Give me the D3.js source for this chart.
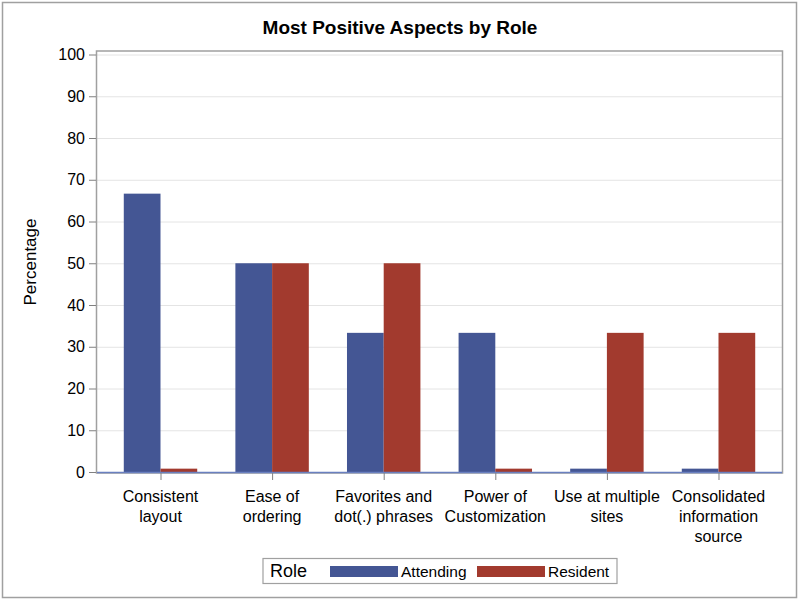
<!DOCTYPE html>
<html>
<head>
<meta charset="utf-8">
<script src="https://cdn.jsdelivr.net/npm/d3@7"></script>
<style>
  html, body { margin: 0; padding: 0; background: #fff; }
  svg { display: block; font-family: "Liberation Sans", Arial, sans-serif; }
</style>
</head>
<body>
<svg id="chart" width="800" height="600"></svg>
<script>
const title = "Most Positive Aspects by Role";
const categories = [
  ["Consistent", "layout"],
  ["Ease of", "ordering"],
  ["Favorites and", "dot(.) phrases"],
  ["Power of", "Customization"],
  ["Use at multiple", "sites"],
  ["Consolidated", "information", "source"]
];
const seriesNames = ["Attending", "Resident"];
const attending = [66.67, 50, 33.33, 33.33, 0.8, 0.8];
const resident = [0.8, 50, 50, 0.8, 33.33, 33.33];
const yTicks = [0, 10, 20, 30, 40, 50, 60, 70, 80, 90, 100];
const colors = ["#445694", "#A23A2E"];
const yLabel = "Percentage";
const legendTitle = "Role";

const svg = d3.select("#chart");
const plot = { left: 97, right: 782, top: 51, bottom: 472 };

// outer border
svg.append("rect").attr("x", 2.5).attr("y", 2.5).attr("width", 794).attr("height", 595)
  .attr("fill", "none").attr("stroke", "#a0a0a0").attr("stroke-width", 1.5);

// title
svg.append("text").attr("x", 400).attr("y", 34).attr("text-anchor", "middle")
  .attr("font-size", 19).attr("font-weight", "bold").attr("fill", "#000").text(title);

const y = d3.scaleLinear().domain([0, 100]).range([472, 54.5]);
const idx = categories.map((d, i) => i);
const x0 = d3.scaleBand().domain(idx).range([plot.left, plot.right])
  .paddingInner(0.342).paddingOuter(0.24);
const x1 = d3.scaleBand().domain([0, 1]).range([0, x0.bandwidth()]);

// gridlines
svg.append("g").selectAll("line").data(yTicks).join("line")
  .attr("x1", plot.left).attr("x2", plot.right)
  .attr("y1", d => y(d) + 0.5).attr("y2", d => y(d) + 0.5)
  .attr("stroke", "#e4e4e4").attr("stroke-width", 1);

// frame
svg.append("rect").attr("x", plot.left - 0.5).attr("y", plot.top)
  .attr("width", plot.right - plot.left + 1).attr("height", plot.bottom - plot.top + 1)
  .attr("fill", "none").attr("stroke", "#a0a0a0").attr("stroke-width", 1.5);

// bars
const data = idx.map(i => [attending[i], resident[i]]);
const groups = svg.append("g").selectAll("g").data(data).join("g")
  .attr("transform", (d, i) => `translate(${x0(i)},0)`);
groups.selectAll("rect").data(d => d.map((v, s) => ({ v, s }))).join("rect")
  .attr("x", d => x1(d.s)).attr("width", x1.bandwidth())
  .attr("y", d => y(d.v)).attr("height", d => y(0) - y(d.v))
  .attr("fill", d => colors[d.s]);

// baseline
svg.append("line").attr("x1", plot.left).attr("x2", plot.right)
  .attr("y1", y(0) + 0.5).attr("y2", y(0) + 0.5)
  .attr("stroke", "#6a80c0").attr("stroke-width", 1.5);

// y axis
const yAxis = d3.axisLeft(y).tickValues(yTicks).tickSize(7).tickPadding(4);
const gy = svg.append("g").attr("transform", `translate(${plot.left - 1},0)`).call(yAxis);
gy.select(".domain").remove();
gy.selectAll(".tick line").attr("stroke", "#808080");
gy.selectAll(".tick text").attr("font-size", 16).attr("fill", "#000")
  .attr("font-family", "Liberation Sans, Arial, sans-serif");

// x axis
const xAxis = d3.axisBottom(d3.scalePoint().domain(idx)
  .range([x0(0) + x0.bandwidth() / 2, x0(5) + x0.bandwidth() / 2])).tickSize(7).tickFormat("");
const gx = svg.append("g").attr("transform", `translate(0,${plot.bottom + 1})`).call(xAxis);
gx.select(".domain").remove();
gx.selectAll(".tick line").attr("stroke", "#808080");

// category labels
svg.append("g").selectAll("text").data(categories).join("text")
  .attr("x", (d, i) => x0(i) + x0.bandwidth() / 2)
  .attr("y", 502).attr("text-anchor", "middle").attr("font-size", 16).attr("fill", "#000")
  .each(function (d) {
    const t = d3.select(this);
    d.forEach((line, k) => {
      t.append("tspan").attr("x", t.attr("x")).attr("dy", k === 0 ? 0 : 20).text(line);
    });
  });

// y label
svg.append("text").attr("transform", "translate(36,262) rotate(-90)")
  .attr("text-anchor", "middle").attr("font-size", 17).attr("fill", "#000").text(yLabel);

// legend
const lg = svg.append("g");
lg.append("rect").attr("x", 263).attr("y", 558.5).attr("width", 354).attr("height", 25)
  .attr("fill", "#fff").attr("stroke", "#a0a0a0").attr("stroke-width", 1.2);
lg.append("text").attr("x", 270).attr("y", 577).attr("font-size", 18).attr("fill", "#000").text(legendTitle);
const swX = [330, 477];
seriesNames.forEach((n, s) => {
  lg.append("rect").attr("x", swX[s]).attr("y", 566).attr("width", 68).attr("height", 11).attr("fill", colors[s]);
  lg.append("text").attr("x", swX[s] + 71).attr("y", 577).attr("font-size", 15.5).attr("fill", "#000").text(n);
});
</script>
</body>
</html>
